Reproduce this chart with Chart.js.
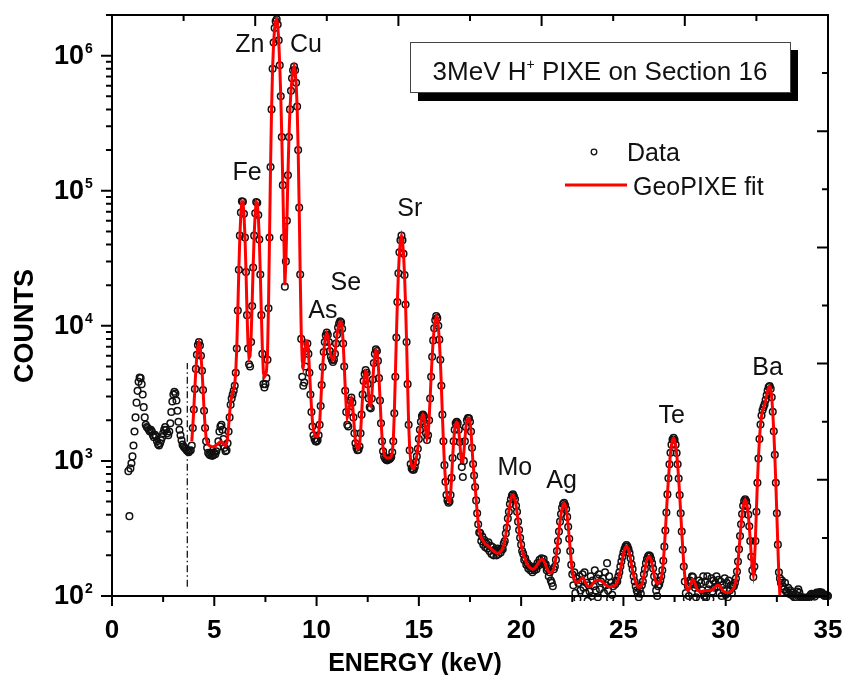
<!DOCTYPE html>
<html>
<head>
<meta charset="utf-8">
<script src="https://cdn.jsdelivr.net/npm/chart.js@4.4.1/dist/chart.umd.min.js"></script>
<style>
  html, body { margin: 0; padding: 0; background: #fff; }
  #pixeChart { display: block; }
</style>
</head>
<body>
<canvas id="pixeChart" width="846" height="675"></canvas>
<script>
// spectrum channels are 0.05 keV wide
const dataStart = 0.8;
const fitStart = 3.9;
const channelWidth = 0.05;

// measured counts, one row per keV
const counts = [
  840, 390, 880, 960, // 0.80
  1080, 1300, 1650, 2100, 2700, 3300, 3850, 4150, 4100, 3700, 3100, 2500, 2100, 1850, 1780, 1750, 1700, 1650, 1700, 1650, // 1
  1550, 1500, 1560, 1520, 1400, 1330, 1300, 1350, 1420, 1500, 1600, 1700, 1780, 1700, 1600, 1550, 1650, 1900, 2300, 2750, // 2
  3100, 3250, 3150, 2800, 2350, 1950, 1700, 1550, 1420, 1320, 1280, 1250, 1230, 1200, 1180, 1160, 1190, 1200, 1300, 1750, // 3
  2400, 3400, 4800, 6100, 7200, 7600, 7150, 6000, 4650, 3350, 2350, 1750, 1400, 1250, 1150, 1120, 1100, 1150, 1090, 1100, // 4
  1150, 1120, 1180, 1250, 1400, 1650, 1800, 1850, 1700, 1450, 1250, 1180, 1200, 1350, 1650, 2100, 2600, 2900, 3100, 3300, // 5
  3600, 4500, 6800, 13000, 26000, 46500, 69000, 83500, 83000, 67500, 45000, 25000, 12000, 6800, 5200, 5000, 7600, 14000, 27000, 46500, // 6
  68000, 82500, 81500, 66000, 43500, 24000, 12000, 6200, 3700, 3500, 3700, 4100, 5600, 13500, 45000, 150000, 400000, 800000, 1250000, 1600000, // 7
  1800000, 1860000, 1700000, 1300000, 850000, 500000, 250000, 110000, 45000, 19500, 30000, 60000, 130000, 250000, 400000, 550000, 680000, 780000, 830000, 780000, // 8
  630000, 420000, 200000, 75000, 24000, 8000, 4200, 3600, 3800, 5000, 6500, 7400, 6200, 4500, 3100, 2300, 1800, 1550, 1450, 1400, // 9
  1390, 1420, 1550, 1850, 2550, 3650, 4950, 6400, 7600, 8500, 8900, 8600, 7600, 6500, 5900, 5600, 5400, 5600, 6200, 7400, // 10
  8600, 9700, 10400, 10800, 10600, 9500, 7400, 5000, 3300, 2300, 1850, 1800, 2300, 2800, 2950, 2700, 2100, 1600, 1350, 1250, // 11
  1200, 1210, 1280, 1600, 2200, 3100, 3900, 4400, 4700, 4500, 3700, 2900, 2500, 2450, 2900, 4000, 5300, 6200, 6700, 6500, // 12
  5500, 4100, 2800, 1900, 1400, 1180, 1080, 1040, 1020, 1010, 1020, 1030, 1040, 1070, 1160, 1400, 2250, 4200, 8200, 15000, // 13
  24500, 35000, 43000, 46500, 43000, 34200, 23800, 14400, 7600, 3700, 1850, 1200, 950, 880, 860, 860, 900, 980, 1080, 1230, // 14
  1450, 1700, 1950, 2150, 2200, 2150, 1900, 1600, 1430, 1550, 2000, 2900, 4200, 5900, 7800, 9600, 11000, 11800, 11400, 10000, // 15
  7900, 5600, 3600, 2200, 1400, 930, 700, 560, 510, 490, 500, 560, 750, 1050, 1400, 1700, 1900, 1950, 1900, 1700, // 16
  1380, 1080, 900, 760, 1000, 1400, 1780, 2000, 2080, 2070, 1950, 1650, 1250, 950, 780, 640, 510, 410, 340, 295, // 17
  293, 255, 275, 240, 260, 230, 245, 225, 250, 215, 235, 205, 230, 200, 220, 215, 200, 225, 205, 220, // 18
  210, 225, 222, 245, 255, 290, 320, 375, 420, 480, 520, 555, 565, 545, 520, 465, 420, 355, 308, 270, // 19
  240, 215, 205, 185, 190, 170, 175, 160, 168, 155, 162, 150, 160, 155, 165, 158, 175, 168, 185, 175, // 20
  190, 178, 188, 170, 172, 155, 160, 140, 150, 130, 125, 118, 158, 165, 185, 215, 255, 300, 355, 405, // 21
  450, 480, 490, 470, 440, 385, 325, 265, 215, 170, 145, 120, 150, 105, 135, 95, 125, 140, 110, 130, // 22
  145, 115, 150, 105, 125, 92, 120, 108, 140, 100, 130, 118, 155, 110, 135, 98, 145, 112, 128, 90, // 23
  135, 105, 150, 120, 175, 110, 140, 95, 125, 102, 118, 90, 122, 130, 128, 140, 150, 165, 180, 195, // 24
  210, 222, 232, 238, 232, 222, 208, 190, 172, 158, 140, 128, 118, 110, 105, 98, 112, 104, 120, 128, // 25
  145, 158, 175, 188, 196, 200, 198, 188, 175, 160, 140, 125, 110, 100, 118, 122, 130, 140, 155, 182, // 26
  232, 305, 415, 565, 745, 945, 1150, 1320, 1440, 1480, 1435, 1320, 1145, 945, 740, 560, 410, 300, 220, 165, // 27
  128, 105, 95, 118, 100, 130, 125, 140, 138, 122, 115, 98, 120, 105, 130, 95, 125, 110, 140, 100, // 28
  128, 98, 140, 112, 122, 95, 135, 108, 130, 115, 125, 140, 118, 132, 105, 128, 100, 120, 110, 135, // 29
  102, 125, 98, 130, 110, 120, 105, 118, 118, 125, 135, 152, 180, 222, 278, 340, 405, 465, 505, 520, // 30
  505, 462, 400, 328, 255, 195, 155, 138, 165, 255, 420, 690, 1040, 1450, 1860, 2170, 2370, 2500, 2620, 2820, // 31
  3060, 3320, 3520, 3580, 3420, 2960, 2310, 1660, 1110, 690, 410, 240, 150, 135, 125, 130, 118, 112, 125, 108, // 32
  108, 115, 104, 110, 102, 106, 100, 98, 103, 97, 108, 112, 106, 99, 96, 98, 95, 97, 94, 96, // 33
  98, 95, 99, 102, 104, 101, 103, 99, 104, 106, 103, 105, 107, 104, 106, 103, 101, 100, 102, 101, // 34
  100 // 35
];

// GeoPIXE fit, same channels, from 3.90 keV
const geoPixeFit = [
  1400, 1800, // 3.90
  2450, 3450, 4750, 6050, 7100, 7500, 7100, 6050, 4700, 3400, 2400, 1800, 1480, 1380, 1320, 1300, 1290, 1280, 1270, 1270, // 4
  1280, 1290, 1310, 1330, 1350, 1370, 1380, 1385, 1370, 1340, 1310, 1300, 1340, 1480, 1800, 2250, 2700, 3000, 3250, 3400, // 5
  3700, 4600, 6900, 13000, 26000, 46000, 68000, 83000, 83000, 68000, 45500, 25500, 12500, 7200, 5800, 6000, 8200, 14500, 27500, 47000, // 6
  68000, 82500, 81000, 66000, 44000, 24500, 12500, 6800, 4500, 4200, 4300, 4600, 6000, 14000, 45000, 150000, 400000, 800000, 1250000, 1600000, // 7
  1800000, 1850000, 1700000, 1300000, 850000, 500000, 250000, 110000, 45000, 20000, 30000, 60000, 130000, 250000, 400000, 550000, 680000, 780000, 830000, 780000, // 8
  630000, 420000, 200000, 75000, 24000, 9000, 5500, 5000, 5600, 6800, 7700, 7600, 6500, 4800, 3400, 2500, 1950, 1700, 1580, 1530, // 9
  1510, 1520, 1600, 1900, 2600, 3700, 5000, 6400, 7600, 8400, 8800, 8500, 7600, 6600, 6000, 5800, 5600, 5700, 6300, 7400, // 10
  8600, 9600, 10300, 10700, 10600, 9600, 7600, 5200, 3500, 2500, 2100, 2200, 2500, 2800, 2900, 2700, 2200, 1700, 1400, 1280, // 11
  1240, 1230, 1300, 1600, 2200, 3000, 3800, 4300, 4600, 4500, 3800, 3000, 2600, 2550, 3000, 4000, 5200, 6100, 6600, 6500, // 12
  5600, 4200, 2900, 2000, 1500, 1250, 1130, 1080, 1060, 1050, 1050, 1050, 1060, 1080, 1160, 1400, 2250, 4200, 8200, 15000, // 13
  24500, 35000, 43000, 46000, 42500, 34200, 23800, 14400, 7600, 3700, 1900, 1250, 1000, 920, 880, 880, 920, 1000, 1100, 1250, // 14
  1450, 1700, 1950, 2120, 2200, 2150, 1900, 1620, 1470, 1550, 2000, 2900, 4200, 5900, 7800, 9600, 11000, 11700, 11400, 10000, // 15
  7900, 5600, 3600, 2200, 1400, 950, 720, 590, 530, 505, 500, 560, 750, 1050, 1400, 1700, 1880, 1930, 1900, 1700, // 16
  1380, 1100, 990, 990, 1150, 1450, 1780, 1980, 2060, 2070, 1950, 1650, 1250, 950, 780, 650, 520, 420, 350, 305, // 17
  285, 270, 262, 255, 248, 243, 240, 237, 233, 230, 226, 222, 218, 215, 212, 210, 208, 207, 207, 210, // 18
  214, 218, 226, 238, 257, 285, 323, 370, 423, 475, 520, 550, 560, 548, 516, 469, 415, 360, 311, 271, // 19
  241, 219, 204, 194, 188, 178, 172, 167, 164, 161, 159, 158, 158, 160, 163, 167, 172, 177, 181, 184, // 20
  186, 186, 183, 177, 169, 161, 155, 151, 149, 148, 150, 153, 160, 173, 192, 220, 257, 302, 353, 403, // 21
  446, 475, 485, 473, 440, 390, 330, 270, 220, 180, 155, 140, 133, 128, 126, 125, 126, 129, 132, 135, // 22
  136, 134, 130, 125, 121, 118, 117, 117, 118, 120, 123, 126, 128, 130, 131, 131, 131, 131, 130, 128, // 23
  126, 124, 122, 120, 119, 118, 117, 117, 117, 118, 118, 118, 120, 122, 126, 133, 142, 154, 170, 187, // 24
  204, 218, 228, 232, 228, 218, 204, 187, 170, 154, 142, 133, 126, 122, 118, 116, 116, 118, 122, 130, // 25
  142, 157, 172, 185, 193, 196, 194, 186, 172, 157, 143, 132, 126, 124, 125, 127, 127, 135, 151, 179, // 26
  228, 302, 412, 559, 738, 939, 1139, 1311, 1428, 1470, 1428, 1311, 1139, 939, 738, 559, 412, 302, 225, 172, // 27
  140, 122, 113, 110, 112, 117, 124, 130, 132, 130, 124, 117, 112, 110, 109, 108, 108, 108, 109, 109, // 28
  110, 110, 110, 110, 110, 110, 111, 112, 113, 115, 117, 119, 120, 120, 119, 116, 113, 110, 108, 107, // 29
  106, 106, 106, 106, 107, 108, 110, 112, 115, 121, 131, 149, 178, 219, 273, 336, 402, 460, 500, 515, // 30
  500, 460, 400, 330, 260, 200, 160, 145, 170, 260, 430, 700, 1050, 1450, 1850, 2150, 2350, 2480, 2600, 2800, // 31
  3050, 3300, 3500, 3550, 3400, 2950, 2300, 1650, 1100, 680, 400, 230, 140, 100, 80 // 32
];

const xTickValues = [0, 5, 10, 15, 20, 25, 30, 35];
const xTickLabels = ['0', '5', '10', '15', '20', '25', '30', '35'];
const yDecades = [1e2, 1e3, 1e4, 1e5, 1e6];
const yExponents = ['2', '3', '4', '5', '6'];

const elementLabels = [
  { name: 'Zn', energy: 6.74, counts: 1.07e6 },
  { name: 'Cu', energy: 9.48, counts: 1.07e6 },
  { name: 'Fe', energy: 6.6, counts: 1.2e5 },
  { name: 'As', energy: 10.31, counts: 1.15e4 },
  { name: 'Se', energy: 11.43, counts: 1.85e4 },
  { name: 'Sr', energy: 14.56, counts: 6.5e4 },
  { name: 'Mo', energy: 19.69, counts: 787 },
  { name: 'Ag', energy: 21.98, counts: 631 },
  { name: 'Te', energy: 27.36, counts: 1912 },
  { name: 'Ba', energy: 32.05, counts: 4340 }
];

// dash-dot marker below the fit start
const cutoffEnergy = 3.68;
const cutoffCounts = [117, 5300];

const FONT = "'Liberation Sans', Arial, sans-serif";

const dataPoints = counts.map((c, i) => ({ x: dataStart + i * channelWidth, y: c }));
const fitPoints = geoPixeFit.map((c, i) => ({ x: fitStart + i * channelWidth, y: c }));

const decorations = {
  id: 'decorations',
  afterDraw(chart) {
    const { ctx, chartArea: a } = chart;
    const { x, y, xTop, yRight } = chart.scales;
    ctx.save();

    // ticks
    ctx.strokeStyle = '#000';
    ctx.lineWidth = 2;
    ctx.beginPath();
    const tick = (x1, y1, x2, y2) => { ctx.moveTo(x1, y1); ctx.lineTo(x2, y2); };
    for (let v = 0; v <= 35; v += 2.5) {
      const px = x.getPixelForValue(v);
      tick(px, a.bottom, px, a.bottom + (v % 5 === 0 ? 10 : 6));
    }
    yDecades.forEach(d => {
      for (let m = 1; m <= 9; m++) {
        const v = d * m;
        if (v > y.max) break;
        const py = y.getPixelForValue(v);
        tick(a.left, py, a.left - (m === 1 ? 11 : 6), py);
      }
    });
    for (let i = 1; i < 10; i++) {
      const len = i % 2 === 0 ? 11 : 6;
      const px = xTop.getPixelForValue(i);
      tick(px, a.top, px, a.top + len);
      const py = yRight.getPixelForValue(i);
      tick(a.right, py, a.right - len, py);
    }
    ctx.stroke();
    ctx.strokeRect(a.left, a.top, a.right - a.left, a.bottom - a.top);

    // tick labels
    ctx.fillStyle = '#000';
    ctx.font = `bold 26px ${FONT}`;
    ctx.textAlign = 'center';
    ctx.textBaseline = 'alphabetic';
    xTickValues.forEach((v, i) => ctx.fillText(xTickLabels[i], x.getPixelForValue(v), a.bottom + 42));

    yDecades.forEach((d, i) => {
      const py = y.getPixelForValue(d);
      ctx.font = `bold 27px ${FONT}`;
      ctx.textAlign = 'right';
      ctx.textBaseline = 'middle';
      ctx.fillText('10', a.left - 28, py + 1);
      ctx.font = `bold 14px ${FONT}`;
      ctx.textAlign = 'left';
      ctx.textBaseline = 'alphabetic';
      ctx.fillText(yExponents[i], a.left - 27, py - 3);
    });

    // axis titles
    ctx.font = `bold 25px ${FONT}`;
    ctx.textAlign = 'center';
    ctx.fillText('ENERGY (keV)', 415, 671);
    ctx.save();
    ctx.translate(33, 326);
    ctx.rotate(-Math.PI / 2);
    ctx.font = `bold 27px ${FONT}`;
    ctx.fillText('COUNTS', 0, 0);
    ctx.restore();

    // element labels
    ctx.fillStyle = '#111';
    ctx.font = `25px ${FONT}`;
    ctx.textAlign = 'center';
    elementLabels.forEach(l => {
      ctx.fillText(l.name, x.getPixelForValue(l.energy), y.getPixelForValue(l.counts));
    });

    // title box with shadow
    ctx.fillStyle = '#000';
    ctx.fillRect(418, 50, 380, 51);
    ctx.fillStyle = '#fff';
    ctx.fillRect(410, 42, 380, 50);
    ctx.strokeStyle = '#444';
    ctx.lineWidth = 1;
    ctx.strokeRect(410.5, 42.5, 380, 50);
    ctx.fillStyle = '#111';
    ctx.textAlign = 'left';
    const big = `26px ${FONT}`, small = `14px ${FONT}`;
    const parts = [['3MeV H', big, 0], ['+', small, -11], [' PIXE on Section 16', big, 0]];
    let total = 0;
    parts.forEach(p => { ctx.font = p[1]; total += ctx.measureText(p[0]).width; });
    let cx = 600 - total / 2;
    parts.forEach(p => {
      ctx.font = p[1];
      ctx.fillText(p[0], cx, 80 + p[2]);
      cx += ctx.measureText(p[0]).width;
    });

    // legend
    ctx.strokeStyle = '#111';
    ctx.lineWidth = 1.3;
    ctx.beginPath();
    ctx.arc(594, 152, 2.8, 0, Math.PI * 2);
    ctx.stroke();
    ctx.strokeStyle = '#f00';
    ctx.lineWidth = 3;
    ctx.beginPath();
    ctx.moveTo(565, 185);
    ctx.lineTo(627, 185);
    ctx.stroke();
    ctx.font = `25px ${FONT}`;
    ctx.fillStyle = '#111';
    ctx.fillText('Data', 627, 161);
    ctx.fillText('GeoPIXE fit', 633, 195);

    ctx.restore();
  }
};

new Chart(document.getElementById('pixeChart'), {
  type: 'scatter',
  data: {
    datasets: [
      {
        type: 'line',
        label: 'GeoPIXE fit',
        data: fitPoints,
        xAxisID: 'x',
        yAxisID: 'y',
        borderColor: '#ff0000',
        borderWidth: 3,
        pointRadius: 0,
        tension: 0,
        order: 0
      },
      {
        type: 'scatter',
        label: 'Data',
        data: dataPoints,
        xAxisID: 'x',
        yAxisID: 'y',
        pointRadius: 3.3,
        pointBorderWidth: 1.5,
        borderColor: '#111',
        backgroundColor: 'rgba(0,0,0,0)',
        clip: 5,
        order: 1
      },
      {
        type: 'line',
        label: 'cutoff',
        data: [{ x: cutoffEnergy, y: cutoffCounts[0] }, { x: cutoffEnergy, y: cutoffCounts[1] }],
        xAxisID: 'x',
        yAxisID: 'y',
        borderColor: '#000',
        borderWidth: 1.2,
        borderDash: [7, 3, 1.5, 3],
        pointRadius: 0,
        order: 2
      }
    ]
  },
  options: {
    responsive: false,
    animation: false,
    devicePixelRatio: 1,
    layout: { padding: { top: 15, right: 18, bottom: 0, left: 0 } },
    plugins: { legend: { display: false }, tooltip: { enabled: false } },
    scales: {
      x: {
        type: 'linear', min: 0, max: 35,
        grid: { display: false }, border: { display: false }, ticks: { display: false },
        afterFit: s => { s.height = 79; }
      },
      y: {
        type: 'logarithmic', min: 100, max: 2e6,
        grid: { display: false }, border: { display: false }, ticks: { display: false },
        afterFit: s => { s.width = 112; }
      },
      xTop: { type: 'linear', position: 'top', min: 0, max: 10, display: false },
      yRight: { type: 'linear', position: 'right', min: 0, max: 10, display: false }
    }
  },
  plugins: [decorations]
});
</script>
</body>
</html>
